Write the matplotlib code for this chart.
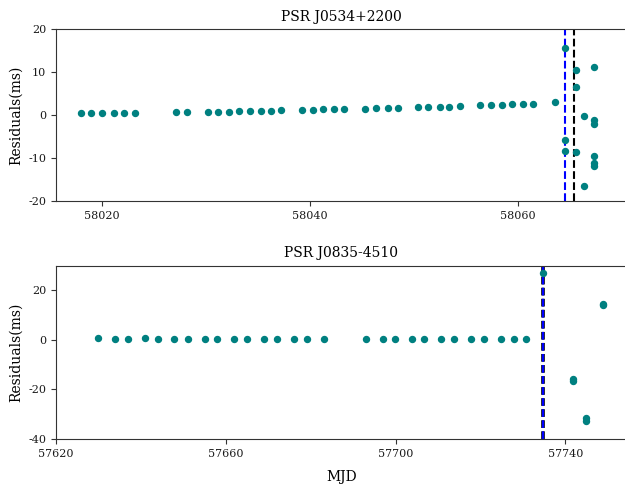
import matplotlib
matplotlib.use('Agg')
import matplotlib.pyplot as plt

plt.rcParams['font.family'] = 'DejaVu Serif'
plt.rcParams['axes.unicode_minus'] = False

# Crab pulsar timing residuals
crab_mjd = [58018.05, 58019.0, 58020.0, 58021.15, 58022.1, 58023.15,
            58027.1, 58028.2,
            58030.2, 58031.2, 58032.2, 58033.2, 58034.3, 58035.3, 58036.3, 58037.2,
            58039.3, 58040.3, 58041.3, 58042.3, 58043.3,
            58045.35, 58046.4, 58047.5, 58048.5,
            58050.4, 58051.35, 58052.5, 58053.4, 58054.4,
            58056.4, 58057.4, 58058.5, 58059.4, 58060.5, 58061.5,
            58063.6,
            58064.5, 58064.5, 58064.5,
            58065.6, 58065.6, 58065.6,
            58066.4, 58066.4,
            58067.3, 58067.3, 58067.3, 58067.3, 58067.3, 58067.3]
crab_res = [0.35, 0.4, 0.4, 0.4, 0.45, 0.45,
            0.6, 0.65,
            0.7, 0.75, 0.8, 0.85, 0.9, 0.95, 1.0, 1.05,
            1.15, 1.2, 1.3, 1.35, 1.4,
            1.5, 1.55, 1.6, 1.65,
            1.8, 1.85, 1.9, 1.95, 2.0,
            2.25, 2.3, 2.4, 2.45, 2.55, 2.6,
            2.95,
            15.5, -5.7, -8.3,
            10.5, 6.4, -8.7,
            -0.2, -16.5,
            11.1, -1.2, -2.1, -9.5, -11.1, -11.9]
crab_glitch = 58064.5
crab_detect = 58065.4

# Vela pulsar timing residuals
vela_mjd = [57630.0, 57634.0, 57637.0, 57640.9, 57644.0, 57647.9, 57651.1,
            57655.0, 57658.0, 57661.9, 57664.9, 57668.9, 57672.0, 57676.0,
            57679.1, 57683.1, 57693.0, 57697.0, 57699.8, 57703.8, 57706.8,
            57710.8, 57713.8, 57717.8, 57720.8, 57724.8, 57727.8, 57730.8,
            57734.7, 57741.8, 57741.8, 57744.85, 57744.85, 57748.9, 57748.9]
vela_res = [0.7, 0.5, 0.3, 0.6, 0.5, 0.4, 0.3,
            0.4, 0.2, 0.4, 0.4, 0.4, 0.3, 0.4,
            0.3, 0.3, 0.3, 0.2, 0.3, 0.2, 0.3,
            0.2, 0.3, 0.2, 0.3, 0.2, 0.3, 0.3,
            26.9, -15.9, -16.6, -31.7, -32.6, 14.0, 14.6]
vela_glitch = 57734.6
vela_detect = 57734.6

fig = plt.figure(figsize=(6.25, 4.84), dpi=100)
ax1 = fig.add_axes([0.0896, 0.5847, 0.9136, 0.3554])
ax2 = fig.add_axes([0.0896, 0.0930, 0.9136, 0.3580])


def style(ax):
    for s in ax.spines.values():
        s.set_color('0.2')
    ax.tick_params(colors='0.2', labelcolor='0.1', labelsize=8, length=3.6)


# top panel: Crab
ax1.plot(crab_mjd, crab_res, 'o', color='teal', markersize=4.3, zorder=3)
ax1.axvline(crab_glitch, color='blue', linestyle='--', linewidth=1.5)
ax1.axvline(crab_detect, color='black', linestyle='--', linewidth=1.5)
ax1.set_xlim(58015.6, 58070.5)
ax1.set_ylim(-20, 20)
ax1.set_xticks([58020, 58040, 58060])
ax1.set_yticks([-20, -10, 0, 10, 20])
ax1.set_ylabel('Residuals(ms)', fontsize=10)
ax1.set_title('PSR J0534+2200', fontsize=10)
style(ax1)

# bottom panel: Vela
ax2.plot(vela_mjd, vela_res, 'o', color='teal', markersize=4.3, zorder=3)
ax2.axvline(vela_detect, color='black', linewidth=2.6,
            linestyle=(0, (5.55 / 2.6, 2.4 / 2.6)))
ax2.axvline(vela_glitch, color='blue', linewidth=1.5,
            linestyle=(0, (5.55 / 1.5, 2.4 / 1.5)))
ax2.set_xlim(57620, 57754.5)
ax2.set_ylim(-40, 30)
ax2.set_xticks([57620, 57660, 57700, 57740])
ax2.set_yticks([-40, -20, 0, 20])
ax2.set_ylabel('Residuals(ms)', fontsize=10)
ax2.set_xlabel('MJD', fontsize=10, labelpad=8)
ax2.set_title('PSR J0835-4510', fontsize=10)
style(ax2)

fig.savefig('out.png', dpi=100)
